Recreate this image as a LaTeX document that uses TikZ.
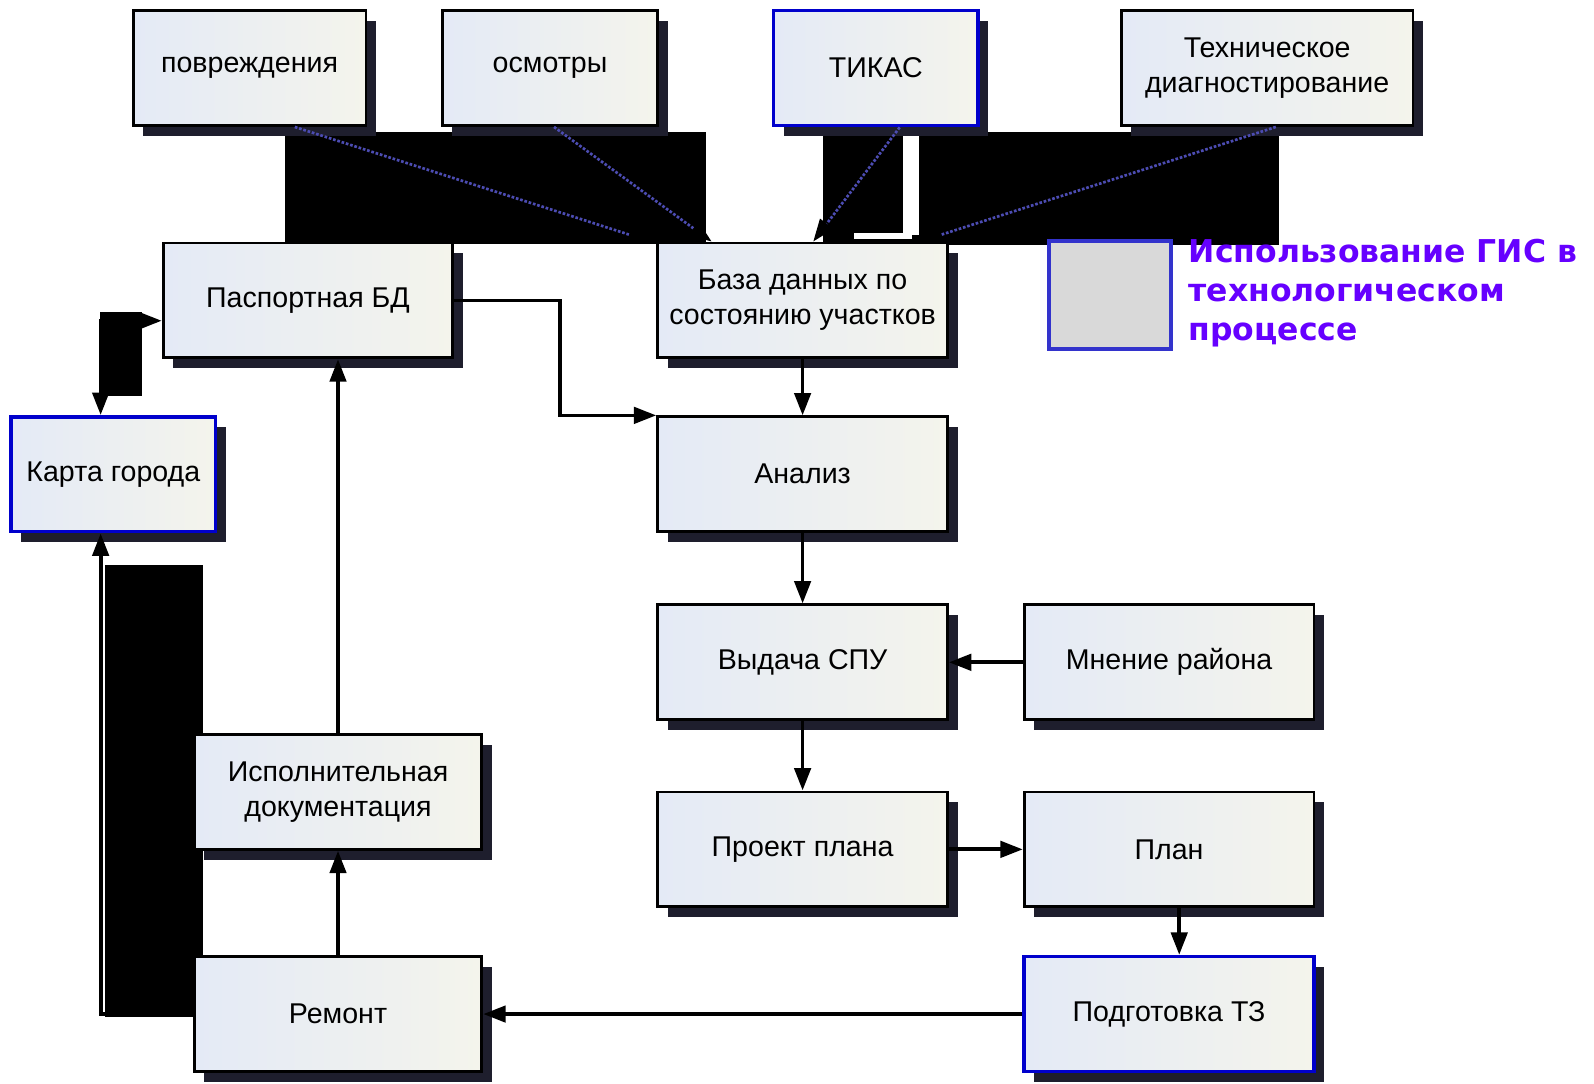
\documentclass[tikz,border=0pt]{standalone}
\usepackage{fontspec}
\setmainfont{Liberation Sans}
\newfontfamily\legfont{DejaVu Sans}
\usetikzlibrary{shadows,arrows.meta}

\definecolor{boxleft}{RGB}{228,234,246}
\definecolor{boxright}{RGB}{244,244,236}
\definecolor{gisblue}{RGB}{0,0,204}
\definecolor{legblue}{RGB}{51,51,204}
\definecolor{legfill}{RGB}{217,217,217}
\definecolor{legtext}{RGB}{102,0,255}
\definecolor{shade}{RGB}{30,30,45}

\begin{document}
\begin{tikzpicture}[x=0.2mm,y=-0.2mm]
\tikzstyle{every node}+=[font=\fontsize{16}{19.5}\selectfont, align=center]
\tikzstyle{blok}=[rectangle, draw=black, line width=1.6pt, left color=boxleft, right color=boxright, minimum width=57mm, minimum height=22.6mm, inner sep=0pt, drop shadow={shadow xshift=2mm, shadow yshift=-2mm, fill=shade, opacity=1}]
\tikzstyle{gisblok}=[blok, draw=gisblue, line width=2pt]
\tikzstyle{conn}=[line width=2.1pt, -{Triangle[length=4.4mm,width=3.2mm]}]
\tikzstyle{diag}=[draw=gray!60!blue, line width=1.5pt, densely dotted, -{Triangle[length=4.4mm,width=3.2mm,color=black]}]
\tikzstyle{blob}=[fill=black]
\useasboundingbox (0,0) rectangle (1568,1066);
\fill[blob] (280,130) rectangle (694,240);
\fill[blob] (810,130) rectangle (1258,241);
\fill[white] (888,130) rectangle (904,231);
\fill[white] (840,229) rectangle (897,235);
\fill[blob] (98,307) rectangle (140,390);
\fill[blob] (103,556) rectangle (200,1000);
\node[blok, minimum width=45.8mm] (povr) at (245.5,67) {повреждения};
\node[blok, minimum width=42.4mm] (osm) at (541,67) {осмотры};
\node[gisblok, minimum width=40.2mm] (tikas) at (861.5,67) {ТИКАС};
\node[blok, minimum width=57.4mm] (tehdiag) at (1246.5,67) {Техническое\\диагностирование};
\node[blok] (pasp) at (303,295.5) {Паспортная БД};
\node[blok] (baza) at (789.5,295.5) {База данных по\\состоянию участков};
\node[gisblok, minimum width=40.2mm] (karta) at (111.5,466.5) {Карта города};
\node[blok] (analiz) at (789.5,466.5) {Анализ};
\node[blok] (spu) at (789.5,651.5) {Выдача СПУ};
\node[blok] (mnenie) at (1150,651.5) {Мнение района};
\node[blok, minimum width=56.6mm] (ispdoc) at (332.5,779) {Исполнительная\\документация};
\node[blok] (proekt) at (789.5,835.5) {Проект плана};
\node[blok] (plan) at (1150,835.5) {План};
\node[blok, minimum width=56.6mm] (remont) at (332.5,997.5) {Ремонт};
\node[gisblok] (tz) at (1150,997.5) {Подготовка ТЗ};
\node[draw=legblue, line width=2.4pt, fill=legfill, minimum width=24mm, minimum height=21.2mm, inner sep=0pt] (legbox) at (1092,290) {};
\node[anchor=west, inner sep=0pt, align=left, text=legtext, font=\legfont\bfseries\fontsize{17.6}{21.8}\selectfont] (legtxt) at (1169,288) {Использование ГИС в\\технологическом\\процессе};
\draw[diag] ([xshift=8.9mm]povr.south) -- ([xshift=-29.9mm]baza.north);
\draw[diag] ([xshift=0.8mm]osm.south) -- ([xshift=-17.9mm]baza.north);
\draw[diag] ([xshift=4.7mm]tikas.south) -- ([xshift=2.1mm]baza.north);
\draw[diag] ([xshift=1.7mm]tehdiag.south) -- ([xshift=23.1mm]baza.north);
\draw[conn] (pasp.east) -- ++(104,0) |- (analiz.north west);
\draw[conn, {Triangle[length=4.4mm,width=3.2mm]}-{Triangle[length=4.4mm,width=3.2mm]}] ([yshift=-4mm]pasp.west) -| ([xshift=-2.5mm]karta.north);
\draw[conn] (remont.west) -| ([xshift=-2.5mm]karta.south);
\draw[conn] (ispdoc.north) -- (ispdoc.north |- pasp.south);
\draw[conn] (remont.north) -- (ispdoc.south);
\draw[conn] (baza.south) -- (analiz.north);
\draw[conn] (analiz.south) -- (spu.north);
\draw[conn] (mnenie.west) -- (spu.east);
\draw[conn] (spu.south) -- (proekt.north);
\draw[conn] (proekt.east) -- (plan.west);
\draw[conn] ([xshift=2mm]plan.south) -- ([xshift=2mm]tz.north);
\draw[conn] (tz.west) -- (remont.east);
\end{tikzpicture}
\end{document}
